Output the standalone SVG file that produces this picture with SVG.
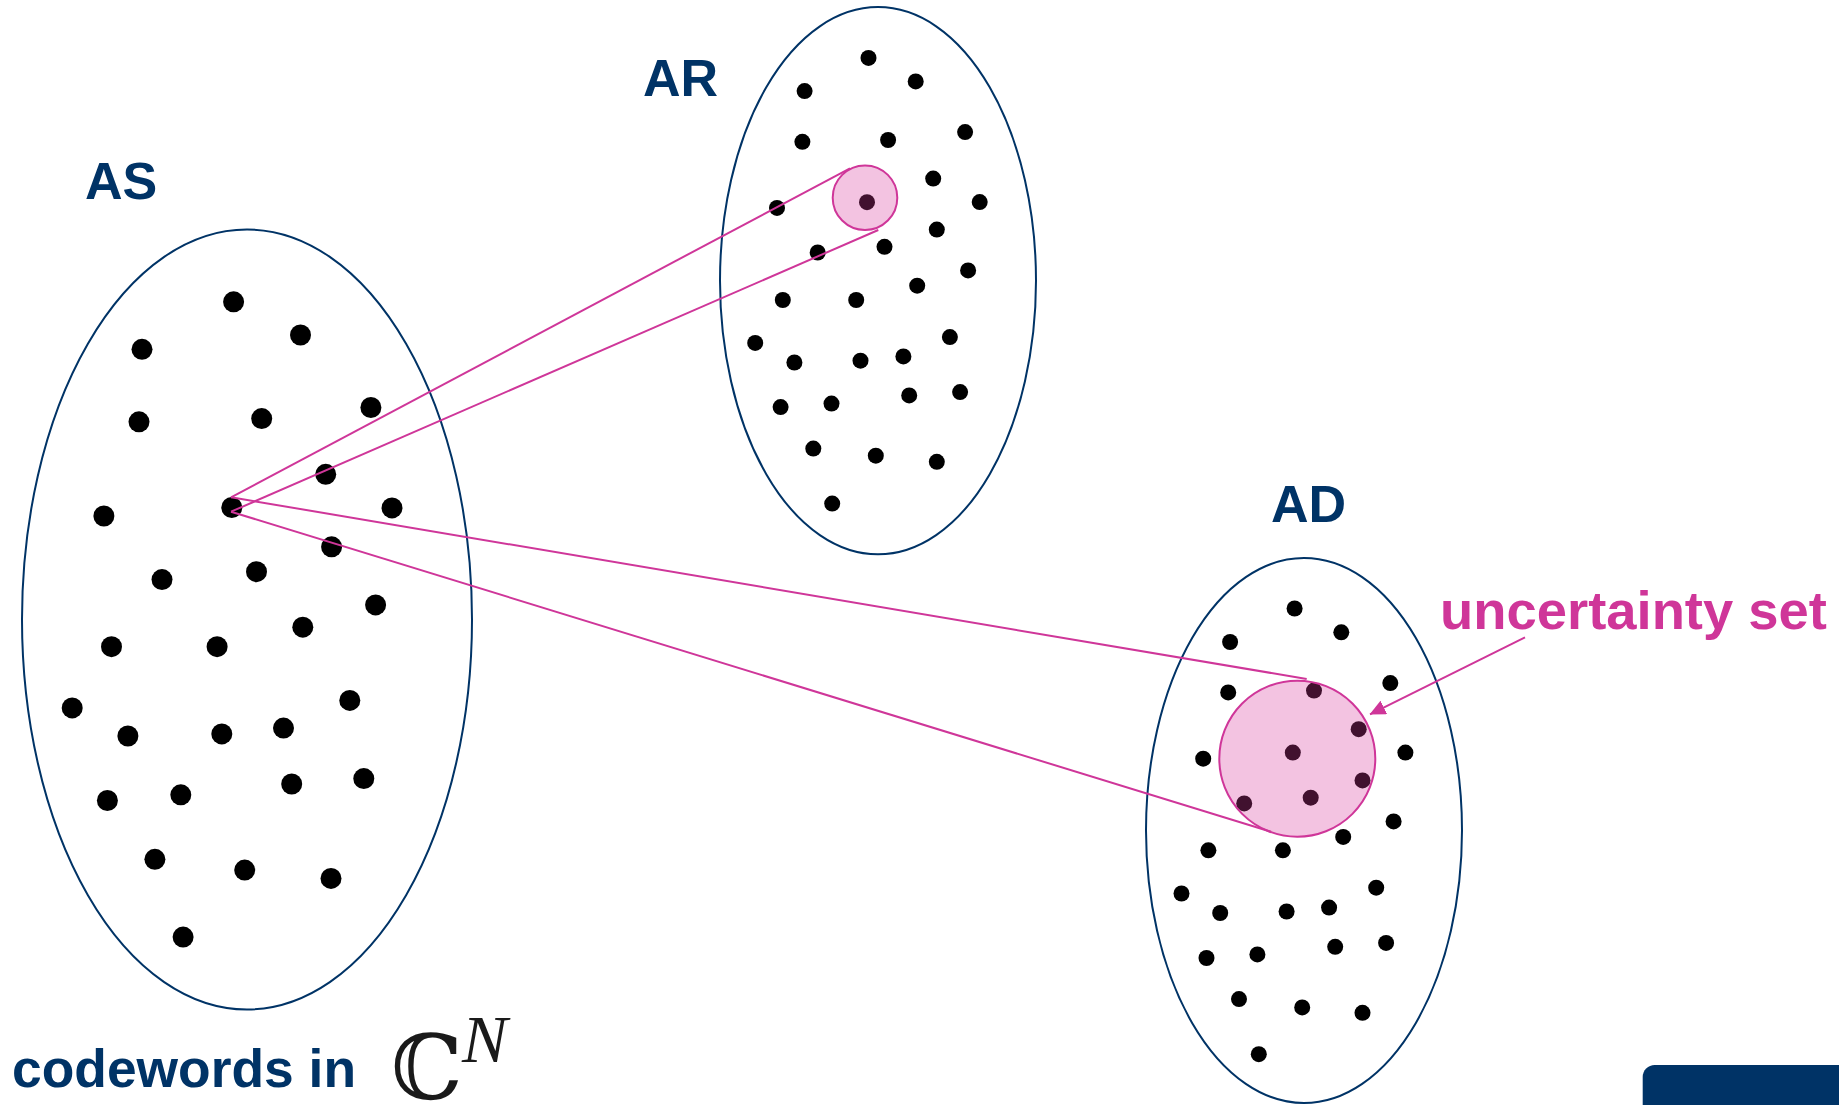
<svg xmlns="http://www.w3.org/2000/svg" width="1839" height="1105" viewBox="0 0 1839 1105">
  <style>
    .set { fill: none; stroke: #003366; stroke-width: 2; }
    .dot { fill: #000; }
    .ball { fill: #d6399b; fill-opacity: 0.3; stroke: #cf3699; stroke-width: 2; }
    .link { fill: none; stroke: #cf3699; stroke-width: 2; }
    .label { font-family: "Liberation Sans", Arial, sans-serif; font-weight: bold; fill: #003366; }
    .pink { font-family: "Liberation Sans", Arial, sans-serif; font-weight: bold; fill: #cf3699; }
  </style>
  <defs>
    <marker id="tri" viewBox="0 0 16 15" refX="15.5" refY="7.5" markerWidth="16" markerHeight="15" markerUnits="userSpaceOnUse" orient="auto">
      <path d="M0,0 L16,7.5 L0,15 Z" fill="#cf3699"/>
    </marker>
  </defs>
  <rect width="1839" height="1105" fill="#fff"/>

  <!-- transmitted codewords -->
  <g id="set-AS">
    <ellipse class="set" cx="247" cy="619.5" rx="225" ry="390"/>
    <text class="label" x="85" y="198.5" font-size="52">AS</text>
    <g class="dot">
      <circle cx="233.6" cy="301.8" r="10.5"/>
      <circle cx="300.5" cy="335" r="10.5"/>
      <circle cx="142" cy="349.3" r="10.5"/>
      <circle cx="139" cy="421.8" r="10.5"/>
      <circle cx="261.7" cy="418.6" r="10.5"/>
      <circle cx="370.9" cy="407.5" r="10.5"/>
      <circle cx="325.7" cy="474.3" r="10.5"/>
      <circle cx="103.9" cy="516" r="10.5"/>
      <circle cx="231.8" cy="507.5" r="10.5"/>
      <circle cx="392" cy="507.9" r="10.5"/>
      <circle cx="331.6" cy="546.8" r="10.5"/>
      <circle cx="162" cy="579.6" r="10.5"/>
      <circle cx="256.5" cy="571.7" r="10.5"/>
      <circle cx="375.6" cy="604.9" r="10.5"/>
      <circle cx="302.8" cy="627.2" r="10.5"/>
      <circle cx="111.5" cy="646.7" r="10.5"/>
      <circle cx="217.1" cy="646.7" r="10.5"/>
      <circle cx="72.2" cy="707.9" r="10.5"/>
      <circle cx="127.9" cy="736" r="10.5"/>
      <circle cx="221.8" cy="733.9" r="10.5"/>
      <circle cx="283.5" cy="728.1" r="10.5"/>
      <circle cx="349.8" cy="700.4" r="10.5"/>
      <circle cx="107.4" cy="800.5" r="10.5"/>
      <circle cx="180.8" cy="794.8" r="10.5"/>
      <circle cx="291.7" cy="784" r="10.5"/>
      <circle cx="363.8" cy="778.6" r="10.5"/>
      <circle cx="154.9" cy="859.3" r="10.5"/>
      <circle cx="244.7" cy="870.1" r="10.5"/>
      <circle cx="331" cy="878.4" r="10.5"/>
      <circle cx="183.1" cy="937.1" r="10.5"/>
    </g>
  </g>

  <!-- received words -->
  <g id="set-AR">
    <ellipse class="set" cx="878" cy="280.7" rx="158" ry="273.6"/>
    <text class="label" x="643" y="96" font-size="52">AR</text>
    <g class="dot">
      <circle cx="868.5" cy="57.9" r="8"/>
      <circle cx="804.6" cy="91.1" r="8"/>
      <circle cx="915.7" cy="81.4" r="8"/>
      <circle cx="802.4" cy="141.8" r="8"/>
      <circle cx="888.1" cy="140" r="8"/>
      <circle cx="965.1" cy="132.1" r="8"/>
      <circle cx="933.2" cy="178.6" r="8"/>
      <circle cx="777" cy="207.9" r="8"/>
      <circle cx="867" cy="202.2" r="8"/>
      <circle cx="979.7" cy="202.1" r="8"/>
      <circle cx="936.8" cy="229.6" r="8"/>
      <circle cx="817.7" cy="252.5" r="8"/>
      <circle cx="884.5" cy="246.8" r="8"/>
      <circle cx="968.1" cy="270.4" r="8"/>
      <circle cx="782.8" cy="300" r="8"/>
      <circle cx="856.2" cy="300" r="8"/>
      <circle cx="917.2" cy="285.7" r="8"/>
      <circle cx="755.2" cy="342.9" r="8"/>
      <circle cx="794.4" cy="362.5" r="8"/>
      <circle cx="860.5" cy="360.7" r="8"/>
      <circle cx="903.4" cy="356.4" r="8"/>
      <circle cx="949.9" cy="337.1" r="8"/>
      <circle cx="780.6" cy="407.1" r="8"/>
      <circle cx="831.5" cy="403.6" r="8"/>
      <circle cx="909.2" cy="395.4" r="8"/>
      <circle cx="960.1" cy="392.1" r="8"/>
      <circle cx="813.3" cy="448.6" r="8"/>
      <circle cx="875.8" cy="455.7" r="8"/>
      <circle cx="936.8" cy="461.8" r="8"/>
      <circle cx="832.2" cy="503.6" r="8"/>
    </g>
    <circle class="ball" cx="865" cy="197.7" r="32.3"/>
  </g>

  <!-- decoded words -->
  <g id="set-AD">
    <ellipse class="set" cx="1304" cy="830.5" rx="158" ry="272.5"/>
    <text class="label" x="1271" y="522" font-size="52">AD</text>
    <g class="dot">
      <circle cx="1294.6" cy="608.5" r="8"/>
      <circle cx="1230.1" cy="642" r="8"/>
      <circle cx="1341.3" cy="632.3" r="8"/>
      <circle cx="1228.2" cy="692.4" r="8"/>
      <circle cx="1314" cy="690.6" r="8"/>
      <circle cx="1390.3" cy="683.1" r="8"/>
      <circle cx="1358.7" cy="729.2" r="8"/>
      <circle cx="1203.2" cy="758.7" r="8"/>
      <circle cx="1292.8" cy="752.6" r="8"/>
      <circle cx="1405.4" cy="752.6" r="8"/>
      <circle cx="1362.5" cy="780.4" r="8"/>
      <circle cx="1244.2" cy="803.4" r="8"/>
      <circle cx="1310.7" cy="797.7" r="8"/>
      <circle cx="1393.6" cy="821.4" r="8"/>
      <circle cx="1343.2" cy="836.9" r="8"/>
      <circle cx="1208.4" cy="850.3" r="8"/>
      <circle cx="1282.9" cy="850.3" r="8"/>
      <circle cx="1181.5" cy="893.5" r="8"/>
      <circle cx="1220.2" cy="913" r="8"/>
      <circle cx="1286.6" cy="911.5" r="8"/>
      <circle cx="1329.1" cy="907.6" r="8"/>
      <circle cx="1376.2" cy="887.7" r="8"/>
      <circle cx="1206.5" cy="958" r="8"/>
      <circle cx="1257.4" cy="954.4" r="8"/>
      <circle cx="1335.2" cy="946.8" r="8"/>
      <circle cx="1386.1" cy="942.9" r="8"/>
      <circle cx="1239" cy="999.1" r="8"/>
      <circle cx="1302.2" cy="1007.4" r="8"/>
      <circle cx="1362.5" cy="1012.8" r="8"/>
      <circle cx="1258.8" cy="1054.2" r="8"/>
    </g>
    <circle class="ball" cx="1297.3" cy="758.7" r="78"/>
  </g>

  <!-- rays from one codeword to the received and decoded regions -->
  <g id="connectors">
    <line class="link" x1="231" y1="497.3" x2="850" y2="168.3"/>
    <line class="link" x1="231" y1="511.7" x2="878.3" y2="230"/>
    <line class="link" x1="231" y1="497.3" x2="1306.7" y2="679"/>
    <line class="link" x1="231" y1="511.7" x2="1271" y2="831.7"/>
    <line class="link" x1="1525" y1="637.3" x2="1370" y2="714.3" marker-end="url(#tri)"/>
  </g>

  <text class="pink" x="1440" y="629.3" font-size="54.5" textLength="387" lengthAdjust="spacingAndGlyphs">uncertainty set</text>

  <g id="caption">
    <text class="label" x="12" y="1087.3" font-size="53" textLength="344" lengthAdjust="spacingAndGlyphs">codewords in</text>
    <text x="391" y="1099" font-family="'DejaVu Serif', 'Liberation Serif', serif" font-size="90" fill="#1a1a1a">ℂ</text>
    <text x="462" y="1062" font-family="'Liberation Serif', serif" font-style="italic" font-size="68" fill="#1a1a1a">N</text>
  </g>

  <rect x="1642.7" y="1065" width="220" height="80" rx="12" fill="#003366"/>
</svg>
